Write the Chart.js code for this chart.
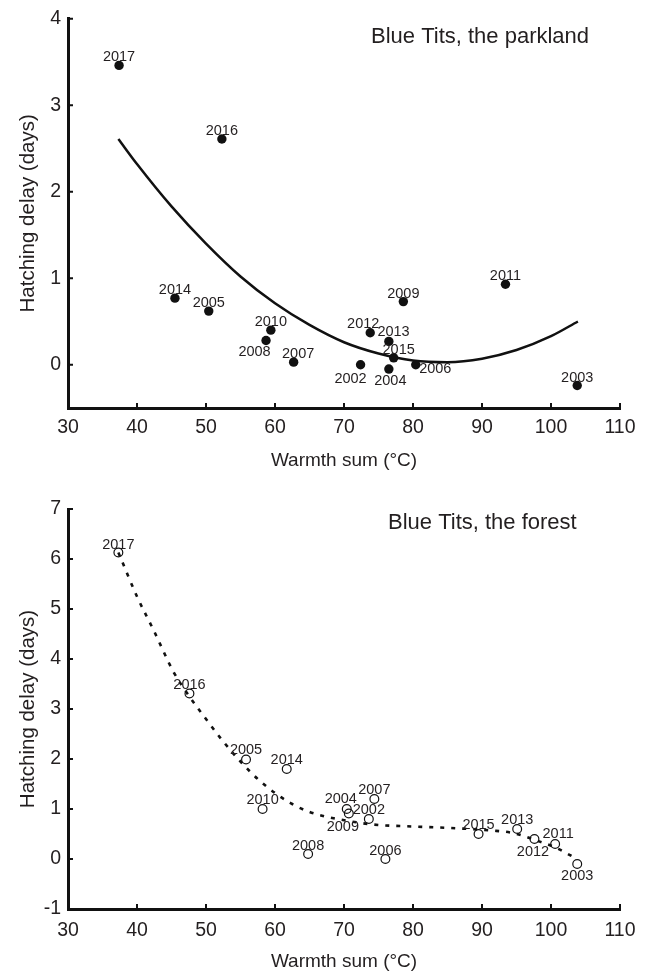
<!DOCTYPE html>
<html>
<head>
<meta charset="utf-8">
<script src="https://cdn.jsdelivr.net/npm/chart.js@4"></script>
<style>
  html, body { margin: 0; padding: 0; background: #fff; }
  #wrap { position: relative; width: 654px; height: 973px; }
  #c1 { position: absolute; left: 0; top: 0; }
  #c2 { position: absolute; left: 0; top: 486px; }
</style>
</head>
<body>
<div id="wrap">
  <canvas id="c1" width="654" height="486"></canvas>
  <canvas id="c2" width="654" height="487"></canvas>
</div>
<script>
// ---------------- DATA ----------------
const xTicks = [30, 40, 50, 60, 70, 80, 90, 100, 110];
const parkYTicks = [0, 1, 2, 3, 4];
const forestYTicks = [-1, 0, 1, 2, 3, 4, 5, 6, 7];

const parkTitle = 'Blue Tits, the parkland';
const forestTitle = 'Blue Tits, the forest';
const xTitle = 'Warmth sum (°C)';
const yTitle = 'Hatching delay (days)';

const parkYears  = ['2017','2016','2014','2005','2010','2008','2007','2002','2012','2013','2015','2004','2006','2009','2011','2003'];
const parkWarmth = [37.4, 52.3, 45.5, 50.4, 59.4, 58.7, 62.7, 72.4, 73.8, 76.5, 77.2, 76.5, 80.4, 78.6, 93.4, 103.8];
const parkDelay  = [3.46, 2.61, 0.77, 0.62, 0.40, 0.28, 0.03, 0.00, 0.37, 0.27, 0.08, -0.05, 0.00, 0.73, 0.93, -0.24];

const parkFitX = [37.3, 40, 45, 50, 55, 60, 65, 70, 75, 80, 85, 90, 95, 100, 103.9];
const parkFitY = [2.61, 2.32, 1.83, 1.40, 1.02, 0.71, 0.46, 0.26, 0.13, 0.05, 0.03, 0.07, 0.17, 0.33, 0.50];

const forestYears  = ['2017','2016','2005','2014','2010','2004','2009','2007','2002','2008','2006','2015','2013','2012','2011','2003'];
const forestWarmth = [37.3, 47.6, 55.8, 61.7, 58.2, 70.4, 70.7, 74.4, 73.6, 64.8, 76.0, 89.5, 95.1, 97.6, 100.6, 103.8];
const forestDelay  = [6.13, 3.31, 1.99, 1.80, 1.00, 1.00, 0.91, 1.20, 0.80, 0.10, 0.00, 0.50, 0.60, 0.40, 0.30, -0.10];

const forestFitX = [37.3, 40, 42.5, 45.3, 47.6, 50, 52.5, 55, 57.5, 60.2, 62.5, 64.8, 67, 69.4, 74.2, 80, 85.4, 91.4, 94.5, 97.9, 100.8, 103.5];
const forestFitY = [6.13, 5.25, 4.55, 3.74, 3.25, 2.80, 2.35, 1.95, 1.60, 1.30, 1.10, 0.95, 0.86, 0.79, 0.69, 0.65, 0.62, 0.57, 0.52, 0.37, 0.22, 0.02];

// ---------------- STYLE ----------------
const FONT = "'Liberation Sans', Arial, sans-serif";
const INK = '#231f20';

// label placement (pixel offsets of text centre from the point)
const parkLabelOffsets = {
  '2017':[0,-8], '2016':[0,-8], '2014':[0,-8], '2005':[0,-8], '2010':[0,-8],
  '2008':[-11.5,11], '2007':[4.5,-8], '2002':[-10,14], '2012':[-7,-8.5],
  '2013':[4.7,-9], '2015':[5,-7.5], '2004':[1.5,12], '2006':[19.5,4.5],
  '2009':[0,-7.5], '2011':[0,-8], '2003':[0,-8]
};
const forestLabelOffsets = {
  '2017':[0,-7.5], '2016':[0,-8.5], '2005':[0,-9.5], '2014':[0,-9], '2010':[0,-9],
  '2004':[-6,-10.5], '2009':[-6,13.5], '2007':[0,-9], '2002':[0,-9], '2008':[0,-8.5],
  '2006':[0,-8], '2015':[0,-9], '2013':[0,-9], '2012':[-1.5,12.5], '2011':[3,-10.5], '2003':[0,12]
};

const pts = (xs, ys) => xs.map((x, i) => ({ x: x, y: ys[i] }));

const pointLabelsPlugin = {
  id: 'pointLabels',
  afterDatasetsDraw(chart, args, opts) {
    if (!opts || !opts.labels) return;
    const meta = chart.getDatasetMeta(opts.datasetIndex);
    const ctx = chart.ctx;
    ctx.save();
    ctx.font = '14.5px ' + FONT;
    ctx.fillStyle = INK;
    ctx.textAlign = 'center';
    ctx.textBaseline = 'middle';
    opts.labels.forEach((lab, i) => {
      const el = meta.data[i];
      const off = opts.offsets[lab] || [0, -8];
      ctx.fillText(lab, el.x + off[0], el.y + off[1]);
    });
    ctx.restore();
  }
};

const panelTitlePlugin = {
  id: 'panelTitle',
  afterDraw(chart, args, opts) {
    if (!opts || !opts.text) return;
    const ctx = chart.ctx;
    const a = chart.chartArea;
    ctx.save();
    ctx.font = '22px ' + FONT;
    ctx.fillStyle = INK;
    ctx.textAlign = 'left';
    ctx.textBaseline = 'middle';
    ctx.fillText(opts.text, a.left + opts.dx, a.top + opts.dy);
    ctx.restore();
  }
};

const inwardTicksPlugin = {
  id: 'inwardTicks',
  afterDraw(chart) {
    const ctx = chart.ctx;
    const xs = chart.scales.x, ys = chart.scales.y;
    const a = chart.chartArea;
    ctx.save();
    ctx.strokeStyle = '#111';
    ctx.lineWidth = 2;
    ctx.beginPath();
    xs.ticks.forEach(t => {
      const px = xs.getPixelForValue(t.value);
      ctx.moveTo(px, a.bottom);
      ctx.lineTo(px, a.bottom - 5);
    });
    ys.ticks.forEach(t => {
      const py = ys.getPixelForValue(t.value);
      ctx.moveTo(a.left, py);
      ctx.lineTo(a.left + 5, py);
    });
    ctx.stroke();
    ctx.restore();
  }
};

function makeOptions(cfg) {
  return {
    responsive: false,
    animation: false,
    devicePixelRatio: 1,
    layout: { padding: { top: cfg.padTop, right: 34, left: 0, bottom: 0 } },
    plugins: {
      legend: { display: false },
      tooltip: { enabled: false },
      pointLabels: cfg.labels,
      panelTitle: cfg.title
    },
    scales: {
      x: {
        type: 'linear',
        min: 30, max: 110,
        afterBuildTicks: s => { s.ticks = xTicks.map(v => ({ value: v })); },
        afterFit: s => { s.height = cfg.xHeight; },
        grid: { display: true, drawOnChartArea: false, drawTicks: false, color: 'rgba(0,0,0,0)' },
        border: { display: true, color: '#111', width: 3 },
        ticks: { color: INK, font: { family: FONT, size: 19.5 }, padding: cfg.xTickPad, maxRotation: 0 },
        title: { display: true, text: xTitle, color: INK, font: { family: FONT, size: 19 }, padding: { top: 0, bottom: cfg.xTitlePad } }
      },
      y: {
        type: 'linear',
        min: cfg.yMin, max: cfg.yMax,
        afterBuildTicks: s => { s.ticks = cfg.yTicks.map(v => ({ value: v })); },
        afterFit: s => { s.width = 68; },
        grid: { display: true, drawOnChartArea: false, drawTicks: false, color: 'rgba(0,0,0,0)' },
        border: { display: true, color: '#111', width: 3 },
        ticks: { color: INK, font: { family: FONT, size: 19.5 }, padding: 7 },
        title: { display: true, text: yTitle, color: INK, font: { family: FONT, size: 20.5 }, padding: { top: 15.7, bottom: 0 } }
      }
    }
  };
}

// ---------------- CHART 1 : parkland ----------------
new Chart(document.getElementById('c1'), {
  type: 'scatter',
  data: {
    datasets: [
      {
        data: pts(parkWarmth, parkDelay),
        pointRadius: 4.7,
        pointBackgroundColor: '#111',
        pointBorderColor: '#111',
        pointBorderWidth: 0,
        showLine: false
      },
      {
        data: pts(parkFitX, parkFitY),
        showLine: true,
        pointRadius: 0,
        borderColor: '#111',
        borderWidth: 2.5,
        cubicInterpolationMode: 'monotone',
        fill: false
      }
    ]
  },
  options: makeOptions({
    padTop: 15, xHeight: 78, xTickPad: 8, xTitlePad: 13.6,
    yMin: -0.5, yMax: 4, yTicks: parkYTicks,
    labels: { datasetIndex: 0, labels: parkYears, offsets: parkLabelOffsets },
    title: { text: parkTitle, dx: 303, dy: 18 }
  }),
  plugins: [pointLabelsPlugin, panelTitlePlugin, inwardTicksPlugin]
});

// ---------------- CHART 2 : forest ----------------
new Chart(document.getElementById('c2'), {
  type: 'scatter',
  data: {
    datasets: [
      {
        data: pts(forestWarmth, forestDelay),
        pointRadius: 4.4,
        pointBackgroundColor: 'rgba(0,0,0,0)',
        pointBorderColor: '#111',
        pointBorderWidth: 1.2,
        showLine: false
      },
      {
        data: pts(forestFitX, forestFitY),
        showLine: true,
        pointRadius: 0,
        borderColor: '#111',
        borderWidth: 2.6,
        borderDash: [4, 7],
        cubicInterpolationMode: 'monotone',
        fill: false
      }
    ]
  },
  options: makeOptions({
    padTop: 23, xHeight: 64, xTickPad: 9.5, xTitlePad: 0,
    yMin: -1, yMax: 7, yTicks: forestYTicks,
    labels: { datasetIndex: 0, labels: forestYears, offsets: forestLabelOffsets },
    title: { text: forestTitle, dx: 320, dy: 14 }
  }),
  plugins: [pointLabelsPlugin, panelTitlePlugin, inwardTicksPlugin]
});
</script>
</body>
</html>
